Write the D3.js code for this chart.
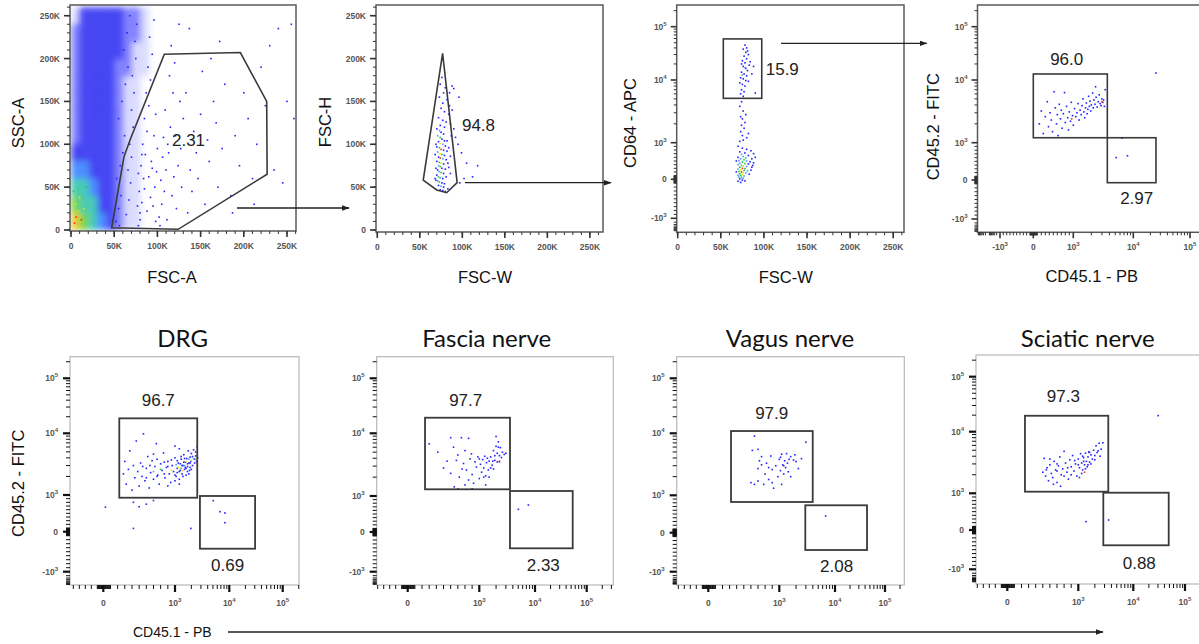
<!DOCTYPE html>
<html><head><meta charset="utf-8">
<script src="https://cdn.jsdelivr.net/npm/d3@7"></script>
<style>body{margin:0;background:#fff}svg{display:block;font-family:"Liberation Sans",Arial,sans-serif}</style>
</head><body>
<svg id="c" width="1199" height="644"></svg>
<script>
// ================= DATA =================
const linearTickValuesK = [0, 50, 100, 150, 200, 250];
const linearTickLabels = ["0", "50K", "100K", "150K", "200K", "250K"];
const logicleTickValues = [-1000, 0, 1000, 10000, 100000];
const logicleTickLabels = ["-10^3", "0", "10^3", "10^4", "10^5"];

// Panel 1: FSC-A (K) x SSC-A (K). Density levels per 10K (x) by 20K (y) bin, rows from SSC 0-20K upward
const fscSscDensity = [
  [7,6,5,4,3,2,1,1,0,0],
  [6,5,5,3,3,2,1,1,0,0],
  [5,5,4,3,3,2,1,1,0,0],
  [4,4,3,3,3,2,1,1,0,0],
  [3,3,3,3,3,2,1,1,0,0],
  [2,3,3,3,3,2,1,1,0,0],
  [2,3,3,3,3,2,1,1,0,0],
  [2,3,3,3,3,2,1,1,0,0],
  [2,3,3,3,3,2,1,1,0,0],
  [2,3,3,3,3,2,2,1,1,0],
  [2,3,3,3,3,3,2,1,1,0],
  [2,3,3,3,3,3,2,2,1,0],
  [1,3,3,3,3,3,2,2,1,0]
];
const fscSscSparse = [
  [4,8,5],[6,15,5],[8,22,4],[5,30,4],[12,12,5],[10,38,4],[15,25,4],[3,45,3],[18,50,3],
  [52,10],[55,25],[58,40],[53,60],[57,75],[60,90],[62,110],[55,130],[59,150],[63,170],[66,190],[61,210],[65,230],[68,250],
  [56,5],[64,18],[67,35],[69,55],[66,70],[70,85],[68,100],[72,120],[70,140],[73,160],[71,180],[75,200],[74,220],[76,240],
  [78,5],[80,20],[82,32],[79,45],[84,60],[81,75],[86,88],[83,100],[88,115],[85,130],[90,145],[87,160],[92,175],[89,190],
  [94,205],[91,225],[96,245],[98,10],[95,28],[97,50],[99,68],[93,80],[100,95],[96,110],[98,135],[80,12],[77,28],[88,22],
  [92,38],[85,48],[90,62],[78,66],[94,72],[82,88],
  [102,15],[105,30],[108,45],[104,58],[110,70],[106,85],[112,100],[115,120],[109,140],[118,160],[114,180],[120,195],
  [116,215],[125,240],[122,25],[128,50],[124,75],[127,95],[121,110],[130,130],[126,150],[103,5],[111,12],[117,40],
  [119,62],[113,90],[107,108],
  [135,20],[140,45],[138,70],[145,90],[142,115],[150,135],[147,60],[155,30],[160,80],[158,105],[165,150],[170,50],
  [168,125],[175,95],[178,170],[133,160],[152,185],[162,200],[172,220],[137,235],
  [185,40],[190,110],[195,75],[200,160],[205,130],[210,60],[215,100],[220,190],[225,145],[230,215],[240,235],[250,150],
  [255,240],[258,130],[245,55],[235,70],[187,20],[212,30]
];
const fscSscGate = [[47.1,2.7],[61.3,85.5],[69.1,107],[108,205],[196,207],[226.5,150],[227,65],[124,0.8]];
const fscSscGateLabel = ["2.31", 136, 104];

// Panel 2: FSC-W (K) x FSC-H (K)
const singletPoints = [
  [76,178],[74,170],[80,166],[78,160],[73,155],[82,152],[77,148],[75,142],[79,138],[84,135],[72,131],[77,128],[81,126],
  [74,122],[79,120],[86,124],[88,168],[85,160],[90,165],[96,155],[92,108],[95,100],[99,90],[105,78],[112,62],[118,75],
  [102,60],[97,55],[88,140],[90,118],
  [70,118],[73,116,2],[75,114],[78,112],[71,110,2],[74,108,3],[76,106],[79,104],[72,103],[74,101,4],[77,100,2],[80,98],
  [70,97],[73,96,3],[75,94,5],[78,93],[82,92],[71,91,2],[74,89,4],[76,88,3],[79,87],[72,85],[74,84,5],[77,83,2],[81,82],
  [70,80],[73,79,3],[75,78,4],[78,77],[72,75,2],[74,74,3],[76,72],[80,71],[84,73],[71,70],[73,68,2],[75,67,3],[78,66],
  [70,64],[72,62,3],[74,61,2],[77,60],[81,62],[86,66],[69,58],[71,57,2],[73,56,3],[76,55],[79,54],[72,52],[75,51,2],
  [78,50],[74,47],[77,46],[80,45],[83,48],[68,60],[69,72],[68,88],[69,100],[82,104],[84,96],[86,86],[83,78],[87,110],[85,145]
];
const singletGate = [[76.8,206],[93.9,55.2],[81.5,43.5],[69.9,46.7],[54,58.3]];
const singletGateLabel = ["94.8", 119, 121.7];

// Panel 3: FSC-W (K) x CD64-APC
const cd64Points = [
  [78,45000],[80,40000],[76,38000],[79,33000],[82,30000],[77,28000],[80,25000],[75,23000],[78,21000],[83,19000],
  [76,18000],[79,16500],[81,15000],[74,14000],[77,13000],[80,12000],[73,11000],[76,10500],[79,9800],[88,18000],
  [86,13000],[72,9000],[75,8500],[78,8000],[74,7000],[77,6500],[90,6200],[73,6000],[76,5500],[84,22000],[81,35000],
  [74,20000],[78,17000,2],[75,12500,2],[82,9500],
  [74,4500],[72,3800],[76,3200],[73,2600],[75,2400],[78,2100],[74,1900],[77,1700],[73,1500],[75,1300],[80,1200],
  [76,1100],[72,1050],[82,1400],[79,2800],
  [70,900],[75,850],[80,820],[85,780],[88,700],[72,750],[78,720],[74,680,2],[82,650],[76,620,2],[70,600],[79,580,2],
  [73,560,2],[86,560],[77,530,3],[71,510,2],[80,500,2],[84,480],[75,470,3],[72,440,2],[78,430,3],[82,420],[70,400,2],
  [74,380,3],[76,360,4],[80,350,2],[72,330,3],[86,330],[75,300,5],[78,290,3],[70,280,2],[73,260,4],[77,240,3],[81,230,2],
  [71,210,3],[74,200,5],[76,180,4],[79,170,2],[72,150,3],[75,130,4],[83,140],[70,110,2],[73,100,3],[77,90,2],[71,60,2],
  [74,50,3],[76,30,2],[72,10],[75,-20],[78,-40],[70,-50],[73,-80],[88,450],[90,600],[68,200],[68,500],[85,250],[87,380]
];
const cd64Gate = [52.9, 5100, 97.5, 59000];
const cd64GateLabel = ["15.9", 121.3, 15500];

// Panel 4: CD45.1-PB x CD45.2-FITC (gated CD64+)
const chimeraPoints = [
  [150,2000],[200,3200],[250,1400],[300,2600],[350,4500],[380,1800],[420,3000],[450,2300],[480,1500],[520,6500],
  [550,3600],[580,2000],[600,2800],[620,1300],[650,4100],[680,2400],[700,3300],[720,1700],[750,2900],[780,6300],
  [800,2100],[830,3800],[860,2500],[880,1600],[900,3100],[930,2200],[950,4400],[980,2700],[1000,1900],[1050,3500],
  [1100,2600],[1150,3000],[1200,4200],[1250,2300],[1300,3300],[1350,2800],[1400,3900],[1450,5000],[1500,3100],
  [1550,2500],[1600,3600],[1650,4300],[1700,2900],[1750,3400],[1800,5500],[1850,3800],[1900,4600],[1950,3200],
  [2000,4000],[2100,6200],[2150,3600],[2200,4800],[2300,4100],[2400,5300],[2500,3700],[2600,4500],[2700,5800],
  [2800,4200],[2900,3900],[3000,5000],[3100,4400],[3200,4800],[3300,3800],[2350,7800],[3400,7000],
  [960,2400,5],[3000,4500,5],[5200,600],[8000,650],[6500,1180],[25000,13500]
];
const chimeraGates = [[0,1200,3690,12970],[3690,-69,25100,1200]];
const chimeraGateLabels = [["96.0",835,24400],["2.97",11480,-469]];

// Bottom row: tissues
const tissueNames = ["DRG", "Fascia nerve", "Vagus nerve", "Sciatic nerve"];
const drgPoints = [
  [280,2200],[300,3500],[320,1500],[350,2600],[370,5200],[400,1200],[420,3000],[440,1900],[460,7500],[480,2400],
  [500,1400],[520,3300],[540,2000],[560,9800],[580,1700],[600,2700],[620,4200],[640,1300],[660,2300],[680,3600],
  [700,1800],[720,2900],[740,6800],[760,2100],[780,1500],[800,3200],[820,2500],[840,4800],[860,1900],[880,2800],
  [900,3500],[920,2200],[940,1600],[960,3000],[980,2400],[1000,4000],[1050,2000],[1100,2700],[1150,3300],[1200,1800],
  [1250,2500],[1300,3800],[1350,2200],[1400,3000],[1450,4500],[1500,2600],[1550,3400],[1600,2100],[1650,3900],
  [1700,2900],[1750,5200],[1800,3300],[1850,2500],[1900,4100],[1950,3500],[2000,4700],[2100,3000],[2200,5400],
  [2300,3800],[2400,4300],[2500,3500],[2550,6000],
  [700,2400,2],[750,2000],[800,2600,3],[850,2200],[900,2900],[950,2500,4],[1000,2100],[1050,3100,2],[1100,2300],
  [1150,2800,4],[1200,2400],[1250,3200],[1300,2700,3],[1350,3000],[1400,2500,4],[1450,3400],[1500,3000,2],[1550,2800],
  [1600,3500,4],[1700,3200],[1800,3800,2],[1900,3300],[2000,3600,4],[2100,4200],[2200,3900,2],[1000,1700],[900,1400],
  [1200,1500],[650,3000],[600,1900],[550,2900],[1100,3600],[1300,4200],[1500,3900],[750,3800],[850,3400],[950,3700],
  [1700,2400],[1900,2800],[2300,3300],[1400,2000],[1600,2700],[2400,5000],[700,4600],[1200,5600],[1000,6200],
  [2600,4000],[2000,2600],[1800,2200],
  [420,800],[600,750],[700,850],[500,680],[30,670],[420,90],[1960,90],
  [5070,845],[6760,545],[8300,510],[8300,245]
];
const fasciaPoints = [
  [300,6800],[420,5000],[500,2800],[550,3600],[600,8500],[640,6000],[700,4500],[750,8500],[780,3300],[800,5300],
  [820,2600],[850,8300],[870,3900],[890,4700],[900,2200],[920,1600],[940,3500],[960,2900],[980,4200],[1000,1900],
  [1050,3200],[1100,2400],[1150,3800],[1200,2800],[1250,4300],[1300,2100],[1350,3400],[1400,4000],[1450,2600],
  [1500,3600],[1600,4200],[1700,3100],[1800,5300],[1900,3700],[2000,6200],[2100,4800],[2200,7300],[2300,4400],
  [2400,5900],[2500,4100],[2600,5000],[2800,4600],[3000,4800],[2000,8900],[2200,6000],[1900,4400],[1750,3600],
  [650,1400],[700,1300],[800,1500],[850,1800],[720,2000],[600,2300],[680,3700],[760,2700],[900,1300],[1000,3900],
  [1300,1500],[1600,2800],[2300,3500],[1500,2000],[1200,2000],[2100,3500],[1800,2700],[2300,3600,5],
  [5030,630],[7600,750]
];
const vagusPoints = [
  [650,9000],[3000,7200],[620,5300],[700,5500],[600,1600],[650,1500],[700,2700],[720,3600],[750,4200],[780,1500],
  [800,2200],[820,3300],[850,1800],[880,4300],[900,2600],[920,1300],[950,3000],[980,2000],[1000,3800],[1050,2500],
  [1100,4600],[1150,3100],[1200,2200],[1250,3600],[1300,2800],[1350,4700],[1400,3300],[1450,2400],[1500,3800],
  [1600,4200],[1800,3700],[2000,3500],[2200,2700],[2500,3900],[750,3100],[850,2800],[1100,1500],[900,1600],
  [1050,4100],[1200,3000],[700,1700],[1600,2000],[1900,4500],
  [6800,446]
];
const sciaticPoints = [
  [500,2200],[520,3700],[540,1900],[560,2600],[580,1600],[600,2900],[620,2100],[640,1800],[660,3300],[680,2400],
  [700,1500],[720,2800],[740,3900],[760,2000],[780,2500],[800,4800],[820,3100],[840,2200],[860,1700],[880,3500],
  [900,2700],[920,4100],[940,2300],[960,3000],[980,1900],[1000,3600],[1050,2600],[1100,4400],[1150,3100],[1200,2400],
  [1250,3800],[1300,2900],[1350,4500],[1400,3300],[1450,2700],[1500,3900],[1550,4700],[1600,3200],[1700,4200],
  [1800,3600],[1900,5000],[2000,4100],[2100,5900],[2200,4600],[2400,6500],[2600,5200],[2800,6600],[2500,4000],
  [650,1400],[750,1300],[550,2400],[600,3600],[700,2300],[850,2600],[950,3400],[1050,1800],[1150,2100],[1250,3300],
  [1350,2500],[1500,2900],[1700,3000],[900,2000],[800,1900],[1000,2900],[1200,4000],[1600,4600],[2000,3500],
  [2300,4900],[700,3000],[1300,2200,5],
  [30300,19600],[3550,273],[1380,227]
];
const tissueGates = [
  [[223,926,2570,18700],[2880,-425,30400,973]],
  [[242,1279,3556,19200],[3556,-411,53600,1202]],
  [[320,821,3980,11000],[2930,-444,43700,733]],
  [[249,1062,3510,19500],[2850,-389,48400,1022]]
];
const tissueGateLabels = [
  [["96.7",767,40300],["0.69",9330,-833]],
  [["97.7",810,40300],["2.33",14460,-856]],
  [["97.9",893,23100],["2.08",10800,-854]],
  [["97.3",789,43300],["0.88",13060,-847]]
];

// ================= RENDER =================
const svg = d3.select('#c');
const defs = svg.append('defs');
defs.append('marker').attr('id','ah').attr('viewBox','0 0 10 10').attr('refX',9).attr('refY',5)
  .attr('markerUnits','userSpaceOnUse').attr('markerWidth',8).attr('markerHeight',8).attr('orient','auto')
  .append('path').attr('d','M0,1.5L10,5L0,8.5Z').attr('fill','#222');
const blur = defs.append('filter').attr('id','blur').attr('x','-20%').attr('y','-20%').attr('width','140%').attr('height','140%');
blur.append('feGaussianBlur').attr('stdDeviation', 3.2);

const L = v => Math.abs(v) <= 1000 ? 3 * v / 1000 : Math.sign(v) * Math.log10(Math.abs(v));
const logicle = a => { const s = d3.scaleLinear().domain([-3,0,3,4,5]).range(a); return v => s(L(v)); };
const linearK = (r0, r1) => d3.scaleLinear().domain([0, 262.144]).range([r0, r1]);

const logMinor = [];
[10,100,1000,10000,100000].forEach(d => { for (let k = 2; k <= 9; k++) logMinor.push(k*d, -k*d); });
logMinor.push(10,-10,100,-100);
const linMinor = d3.range(0, 270, 10);

const dotColors = ["#2323ff","#2323ff","#4aa0ff","#22c840","#f0e000","#ff3010"];
const densityStyle = [null,["#4a4aff",0.2],["#2020ff",0.55],["#1515f0",0.8],["#2f7cff",0.85],["#2cc4a8",0.88],["#6ad23a",0.92],["#e8c828",0.95]];

const panels = [
  {frame:{l:70,r:296,t:5,b:231}, x:linearK(71,297.5), y:linearK(230,5.3), xt:'lin', yt:'lin'},
  {frame:{l:376,r:603,t:5,b:232}, x:linearK(377.3,600.2), y:linearK(230,5.3), xt:'lin', yt:'lin'},
  {frame:{l:676.7,r:904,t:5,b:232.3}, x:linearK(677.7,903.7), y:logicle([218.3,179.3,142.7,80,26.7]), xt:'lin', yt:'log'},
  {frame:{l:977.5,r:1210,t:5,b:232.3}, x:logicle([1000,1033.3,1073.3,1133.3,1190]), y:logicle([219,180,142.7,80,26.7]), xt:'log', yt:'log'},
  {frame:{l:70,r:299,t:356.7,b:585}, x:logicle([43.3,103.3,175,229.3,282.7]), y:logicle([571.7,531.7,495,433.3,378.3]), xt:'log', yt:'log', light:true},
  {frame:{l:376.7,r:613.3,t:356.7,b:585}, x:logicle([347.7,407.7,479.3,535,586.7]), y:logicle([571.7,532,496,433.3,378.3]), xt:'log', yt:'log', light:true},
  {frame:{l:676.7,r:904.3,t:356.7,b:585}, x:logicle([648.3,708.3,779.3,835,885]), y:logicle([571.7,532.7,495.3,433.3,378.3]), xt:'log', yt:'log', light:true},
  {frame:{l:976,r:1210,t:355,b:584}, x:logicle([947.3,1007.3,1078.3,1133.3,1185]), y:logicle([569.3,530,493.3,431.7,376.7]), xt:'log', yt:'log', light:true}
];

function setLabel(t, s, supSize) {
  const m = s.match(/^(.*)\^(.*)$/);
  if (!m) { t.text(s); return; }
  t.append('tspan').text(m[1]);
  t.append('tspan').attr('dy', -4).attr('font-size', supSize).text(m[2]);
}

function drawAxis(g, p, orient, pos, type, bottomRow) {
  const f = p.frame;
  const col = bottomRow ? '#111' : '#333';
  let majors, labels, minors;
  if (type === 'lin') { majors = linearTickValuesK; labels = linearTickLabels; minors = linMinor; }
  else {
    majors = logicleTickValues; labels = logicleTickLabels; minors = logMinor;
    if (orient === 'bottom' && bottomRow) { majors = majors.slice(1); labels = labels.slice(1); }
  }
  const inRange = (c) => orient === 'left' ? (c >= f.t && c <= f.b) : (c >= f.l && c <= Math.min(f.r, 1199));
  const majLen = bottomRow ? 7 : 6, minLen = bottomRow ? 4 : 3;
  const tg = g.append('g').attr('stroke', col);
  minors.forEach(v => {
    const c = pos(v); if (!inRange(c)) return;
    if (orient === 'left') tg.append('line').attr('x1', f.l).attr('x2', f.l - minLen).attr('y1', c).attr('y2', c).attr('stroke-width', 1);
    else tg.append('line').attr('y1', f.b).attr('y2', f.b + minLen).attr('x1', c).attr('x2', c).attr('stroke-width', 1);
  });
  majors.forEach((v, i) => {
    const c = pos(v); if (!inRange(c)) return;
    const w = bottomRow ? 2.2 : 1.6;
    if (orient === 'left') tg.append('line').attr('x1', f.l).attr('x2', f.l - majLen).attr('y1', c).attr('y2', c).attr('stroke-width', w);
    else tg.append('line').attr('y1', f.b).attr('y2', f.b + majLen).attr('x1', c).attr('x2', c).attr('stroke-width', w);
    const t = g.append('text').attr('font-size', '8.5px').attr('fill', '#555').attr('font-weight', 'bold');
    if (orient === 'left') {
      t.attr('x', f.l - (bottomRow ? 12 : 10)).attr('y', c + 3).attr('text-anchor', 'end');
    } else {
      t.attr('x', c).attr('y', f.b + (bottomRow ? 21 : 18)).attr('text-anchor', 'middle');
    }
    setLabel(t, labels[i], '6px');
  });
}

function drawPanel(p, idx, drawContent) {
  const f = p.frame;
  const g = svg.append('g');
  const cid = 'clip' + idx;
  defs.append('clipPath').attr('id', cid).append('rect').attr('x', f.l).attr('y', f.t).attr('width', f.r - f.l).attr('height', f.b - f.t);
  const inner = g.append('g').attr('clip-path', `url(#${cid})`);
  drawContent(inner, p);
  g.append('rect').attr('x', f.l).attr('y', f.t).attr('width', f.r - f.l).attr('height', f.b - f.t)
    .attr('fill', 'none').attr('stroke', p.light ? '#b8b8b8' : '#5a5a5a').attr('stroke-width', p.light ? 1.2 : 1.5);
  drawAxis(g, p, 'left', p.y, p.yt, !!p.light);
  drawAxis(g, p, 'bottom', p.x, p.xt, !!p.light);
  return g;
}

function dots(g, p, pts) {
  g.append('g').selectAll('rect').data(pts).join('rect')
    .attr('x', d => p.x(d[0]) - 0.8).attr('y', d => p.y(d[1]) - 0.8)
    .attr('width', 1.6).attr('height', 1.6)
    .attr('fill', d => dotColors[d[2] || 1]);
}
function rectGate(g, p, r, w) {
  const x0 = p.x(r[0]), x1 = p.x(r[2]), y0 = p.y(r[1]), y1 = p.y(r[3]);
  g.append('rect').attr('x', x0).attr('y', y1).attr('width', x1 - x0).attr('height', y0 - y1)
    .attr('fill', 'none').attr('stroke', '#3a3a3a').attr('stroke-width', w);
}
function gateLabel(g, p, lab) {
  g.append('text').attr('x', p.x(lab[1])).attr('y', p.y(lab[2])).attr('text-anchor', 'middle')
    .attr('dominant-baseline', 'central').attr('font-size', '17px').attr('fill', '#222').text(lab[0]);
}

// Panel 1
drawPanel(panels[0], 0, (g, p) => {
  const dg = g.append('g').attr('filter', 'url(#blur)');
  fscSscDensity.forEach((row, r) => row.forEach((lev, c) => {
    if (!lev) return;
    const x0 = p.x(c * 10), x1 = p.x((c + 1) * 10), y0 = p.y(r * 20), y1 = p.y((r + 1) * 20);
    dg.append('rect').attr('x', x0).attr('y', y1).attr('width', x1 - x0 + 0.3).attr('height', y0 - y1 + 0.3)
      .attr('fill', densityStyle[lev][0]).attr('fill-opacity', densityStyle[lev][1]);
  }));
  dots(g, p, fscSscSparse);
  g.append('path').attr('d', d3.line().x(d => p.x(d[0])).y(d => p.y(d[1]))(fscSscGate) + 'Z')
    .attr('fill', 'none').attr('stroke', '#3a3a3a').attr('stroke-width', 1.6);
  gateLabel(g, p, fscSscGateLabel);
});
// Panel 2
drawPanel(panels[1], 1, (g, p) => {
  dots(g, p, singletPoints);
  g.append('path').attr('d', d3.line().x(d => p.x(d[0])).y(d => p.y(d[1]))(singletGate) + 'Z')
    .attr('fill', 'none').attr('stroke', '#3a3a3a').attr('stroke-width', 1.6);
  gateLabel(g, p, singletGateLabel);
});
// Panel 3
drawPanel(panels[2], 2, (g, p) => {
  dots(g, p, cd64Points);
  rectGate(g, p, cd64Gate, 1.6);
  gateLabel(g, p, cd64GateLabel);
});
// Panel 4
drawPanel(panels[3], 3, (g, p) => {
  dots(g, p, chimeraPoints);
  chimeraGates.forEach(r => rectGate(g, p, r, 1.6));
  chimeraGateLabels.forEach(l => gateLabel(g, p, l));
});
// Bottom row
const tissuePoints = [drgPoints, fasciaPoints, vagusPoints, sciaticPoints];
const titleCenters = [182.7, 486.7, 790, 1087.7];
tissueNames.forEach((name, i) => {
  const p = panels[4 + i];
  drawPanel(p, 4 + i, (g, pp) => {
    dots(g, pp, tissuePoints[i]);
    tissueGates[i].forEach(r => rectGate(g, pp, r, 1.8));
    tissueGateLabels[i].forEach(l => gateLabel(g, pp, l));
  });
  svg.append('text').attr('x', titleCenters[i]).attr('y', 347)
    .attr('text-anchor', 'middle').attr('font-family', 'Lato, "Open Sans", sans-serif').attr('font-size', '24px')
    .attr('fill', '#111').text(name);
});

// Axis titles
const axisTitles = [
  ["SSC-A", 18, 123, true], ["FSC-A", 172, 277, false],
  ["FSC-H", 325, 122, true], ["FSC-W", 485, 277, false],
  ["CD64 - APC", 630, 123, true], ["FSC-W", 785.7, 277, false],
  ["CD45.2 - FITC", 933.3, 126.7, true], ["CD45.1 - PB", 1091.7, 276, false],
  ["CD45.2 - FITC", 18.3, 483.3, true]
];
axisTitles.forEach(([t, x, y, rot]) => {
  svg.append('text').attr('transform', `translate(${x},${y})` + (rot ? ' rotate(-90)' : ''))
    .attr('text-anchor', 'middle').attr('dominant-baseline', 'central')
    .attr('font-size', '16.5px').attr('fill', '#111').text(t);
});
svg.append('text').attr('x', 133).attr('y', 632).attr('dominant-baseline', 'central')
  .attr('font-size', '14px').attr('fill', '#111').text('CD45.1 - PB');

// Arrows (layout)
[[237,208,349,208],[465,182.7,611,182.7],[781,43.3,926.7,43.3],[228,632,1103,632]].forEach(a => {
  svg.append('line').attr('x1', a[0]).attr('y1', a[1]).attr('x2', a[2]).attr('y2', a[3])
    .attr('stroke', '#222').attr('stroke-width', 1.3).attr('marker-end', 'url(#ah)');
});
</script>
</body></html>
